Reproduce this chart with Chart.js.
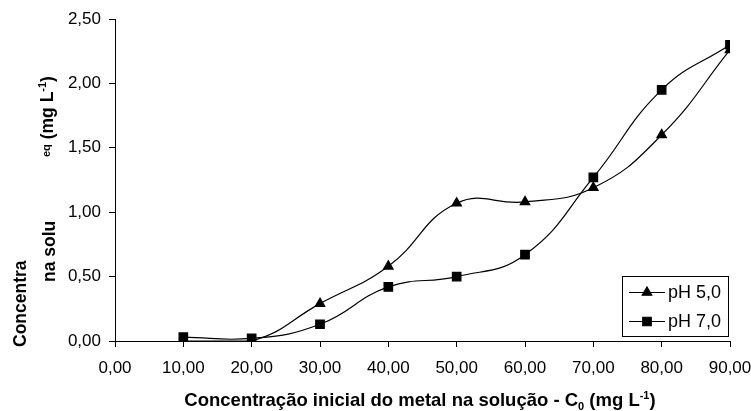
<!DOCTYPE html>
<html lang="pt">
  <head>
    <meta charset="UTF-8" />
    <title>Concentração de equilíbrio</title>
    <script src="https://cdn.jsdelivr.net/npm/chart.js"></script>
    <style>
      body {
        margin: 0;
        background: #fff;
      }
      #wrap {
        width: 751px;
        height: 411px;
      }
    </style>
  </head>
  <body>
    <div id="wrap">
      <canvas id="myChart" width="751" height="411"></canvas>
    </div>
    <script>
      // initial concentration C0 (mg L-1)
      const concIni = [10, 20, 30, 40, 50, 60, 70, 80, 90];
      // equilibrium concentration in solution (mg L-1)
      const ph5 = [0.0, 0.0, 0.29, 0.58, 1.07, 1.08, 1.19, 1.6, 2.26];
      const ph7 = [0.03, 0.02, 0.13, 0.42, 0.5, 0.67, 1.27, 1.95, 2.3];
      const seriesNames = ["pH 5,0", "pH 7,0"];

      const FONT = "'Liberation Sans', Arial, sans-serif";
      const fmt = (v) => v.toFixed(2).replace(".", ",");

      // text pieces with sub/superscripts, drawn along the current x direction
      function pieceStyle(p, size) {
        const s = p.sub || p.sup ? Math.round(size * 0.62) : size;
        let dy = 0;
        if (p.sub) dy = size * 0.22;
        if (p.sup) dy = -size * 0.4;
        if (p.dy !== undefined) dy = p.dy;
        return { s, dy };
      }
      function drawRich(ctx, parts, x, y, size) {
        let cx = x;
        parts.forEach((p) => {
          const st = pieceStyle(p, size);
          ctx.font = "bold " + st.s + "px " + FONT;
          ctx.fillText(p.t, cx, y + st.dy);
          cx += ctx.measureText(p.t).width;
        });
        return cx - x;
      }
      function richWidth(ctx, parts, size) {
        let w = 0;
        parts.forEach((p) => {
          ctx.font = "bold " + pieceStyle(p, size).s + "px " + FONT;
          w += ctx.measureText(p.t).width;
        });
        return w;
      }
      function drawUp(ctx, parts, x, y, size) {
        ctx.save();
        ctx.translate(x, y);
        ctx.rotate(-Math.PI / 2);
        drawRich(ctx, parts, 0, 0, size);
        ctx.restore();
      }

      const titles = {
        id: "titles",
        afterDraw(chart) {
          const { ctx } = chart;
          ctx.save();
          ctx.fillStyle = "#000";
          ctx.textBaseline = "alphabetic";
          ctx.textAlign = "left";

          // x axis title
          const xParts = [
            { t: "Concentração inicial do metal na solução - C" },
            { t: "0", sub: true },
            { t: " (mg L" },
            { t: "-1", sup: true },
            { t: ")" },
          ];
          const w = richWidth(ctx, xParts, 18.5);
          drawRich(ctx, xParts, 420 - w / 2, 406, 18.5);

          // y axis title, cut into pieces like the original
          drawUp(ctx, [{ t: "Concentra" }], 26, 347, 17.5);
          drawUp(ctx, [{ t: "na solu" }], 55, 282, 17.5);
          drawUp(
            ctx,
            [
              { t: "eq", sub: true, dy: -3 },
              { t: " (mg L" },
              { t: "-1", sup: true },
              { t: ")" },
            ],
            53,
            157,
            17.5
          );
          ctx.restore();
        },
      };

      const boxLegend = {
        id: "boxLegend",
        afterDraw(chart) {
          const { ctx } = chart;
          const bx = 622,
            by = 276,
            bw = 106,
            bh = 60;
          ctx.save();
          ctx.fillStyle = "#fff";
          ctx.fillRect(bx, by, bw, bh);
          ctx.strokeStyle = "#000";
          ctx.lineWidth = 1;
          ctx.strokeRect(bx + 0.5, by + 0.5, bw, bh);
          chart.data.datasets.forEach((ds, i) => {
            const ly = by + 16 + i * 29;
            ctx.beginPath();
            ctx.moveTo(bx + 7, ly + 0.5);
            ctx.lineTo(bx + 43, ly + 0.5);
            ctx.strokeStyle = "#000";
            ctx.lineWidth = 1.2;
            ctx.stroke();
            ctx.fillStyle = "#000";
            Chart.helpers.drawPoint(
              ctx,
              { pointStyle: ds.pointStyle, radius: ds.pointRadius, borderWidth: 1, rotation: 0 },
              bx + 25,
              ly + 0.5
            );
            ctx.fillStyle = "#000";
            ctx.font = "18px " + FONT;
            ctx.textBaseline = "middle";
            ctx.textAlign = "left";
            ctx.fillText(ds.label, bx + 46, ly + 1);
          });
          ctx.restore();
        },
      };

      const ctx = document.getElementById("myChart");

      const myChart = new Chart(ctx, {
        type: "line",
        data: {
          datasets: [
            {
              label: seriesNames[0],
              data: concIni.map((x, i) => ({ x: x, y: ph5[i] })),
              borderColor: "#000",
              backgroundColor: "#000",
              borderWidth: 1.2,
              pointStyle: "triangle",
              pointRadius: 5.5,
              tension: 0.45,
            },
            {
              label: seriesNames[1],
              data: concIni.map((x, i) => ({ x: x, y: ph7[i] })),
              borderColor: "#000",
              backgroundColor: "#000",
              borderWidth: 1.2,
              pointStyle: "rect",
              pointRadius: 6,
              tension: 0.45,
            },
          ],
        },
        options: {
          responsive: false,
          animation: false,
          layout: { padding: { left: 0, right: 21, top: 19, bottom: 0 } },
          scales: {
            x: {
              type: "linear",
              min: 0,
              max: 90,
              ticks: {
                stepSize: 10,
                color: "#000",
                font: { size: 17, family: FONT },
                padding: 11,
                maxRotation: 0,
                autoSkip: false,
                callback: (v) => fmt(v),
              },
              grid: { drawOnChartArea: false, tickLength: 6, color: "#000" },
              border: { color: "#000", width: 1 },
              afterFit(s) {
                s.height = 70;
                // let the last label run to the canvas edge like the original
                s.paddingLeft = 0;
                s.paddingRight = 0;
              },
            },
            y: {
              min: 0,
              max: 2.5,
              ticks: {
                stepSize: 0.5,
                color: "#000",
                font: { size: 17, family: FONT },
                padding: 8,
                callback: (v) => fmt(v),
              },
              grid: { drawOnChartArea: false, tickLength: 6, color: "#000" },
              border: { color: "#000", width: 1 },
              afterFit(s) {
                s.width = 115;
              },
            },
          },
          plugins: {
            legend: { display: false },
            tooltip: { enabled: false },
          },
        },
        plugins: [titles, boxLegend],
      });
    </script>
  </body>
</html>
